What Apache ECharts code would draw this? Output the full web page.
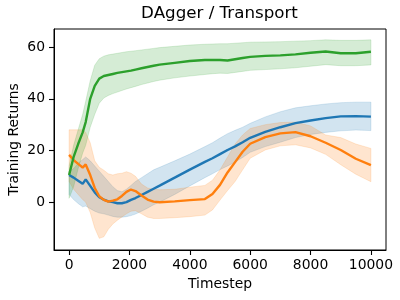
<!DOCTYPE html>
<html>
<head>
<meta charset="utf-8">
<script src="https://cdn.jsdelivr.net/npm/echarts@6/dist/echarts.min.js"></script>
<style>html,body{margin:0;padding:0;background:#fff}#c{width:400px;height:300px}</style>
</head>
<body>
<div id="c"></div>
<script>
var timesteps = [0,150,300,450,550,700,850,1000,1150,1300,1450,1600,1750,1900,2050,2200,2400,2600,2800,3000,3500,4000,4500,4750,5000,5250,5500,5750,6000,6500,7000,7500,8000,8500,9000,9500,10000];

var blueMean = [10.5,9.5,8.3,7.1,8.8,6.3,3.8,1.9,1.0,0.3,0,-0.4,-0.4,0,0.9,1.6,2.8,4.0,5.2,6.4,9.5,12.6,15.6,17.0,18.6,20.2,21.6,23.2,24.9,27.2,29.0,30.6,31.6,32.5,33.2,33.3,33.1];
var blueHi = [12,13,15,16.5,17.5,16,14,12,10,8,6,4.5,4,5,6.5,8,9.5,11,12.5,13.5,16,18.6,21.5,23,24.8,26.5,27.8,29,30.5,33,35,36.5,37.3,38,38.5,38.7,38.7];
var blueLo = [3,1,-0.5,-1.8,-1.5,-2.5,-3.5,-4.2,-4.5,-5,-5.5,-5.8,-5.8,-5.6,-5.2,-4.6,-3.5,-2.3,-1,0,3,6.3,9.5,11,12.6,14,15.5,17.3,19.3,21.5,23.2,25,26.2,27,27.6,27.9,27.7];

var orangeMean = [18.3,16.3,14.8,13.4,14.6,10.5,5.5,2.3,0.9,0.2,0.6,1.1,2.4,4.0,4.9,4.3,2.6,1.0,0.2,0,0.3,0.8,1.2,3.2,6.7,11.5,15.5,19.5,22.6,25.2,26.6,27.1,25.5,23,20.2,16.8,14.3];
var orangeHi = [28,28,28,28,27,23,16,13.5,12.4,11,10.5,11,11.2,11.8,11.2,10,7,5.5,5,4.8,5,5.8,6.5,8.5,12.5,17.5,22.5,26,28.5,30,30.8,31,29.5,26,25,22.5,20.8];
var orangeLo = [8,5,3,1,0,-4,-10,-14,-13.4,-10.5,-8.4,-7,-5.7,-4.5,-3.5,-3.3,-4.5,-5.8,-6.3,-6.3,-6,-5.6,-5,-3,0.8,4.5,8,12.5,17,20.2,21.8,22.2,21,18.5,14.5,10.8,7.9];

var greenMean = [10.5,17.5,22.5,27,31,40,45,47.8,48.8,49.2,49.6,50,50.3,50.6,50.9,51.3,51.8,52.3,52.8,53.2,53.9,54.6,55,55,55,54.8,55.3,55.8,56.2,56.6,56.8,57.2,57.8,58.3,57.6,57.6,58.2];
var greenHi = [14,22,28,34,39,47,53,55.5,56.5,57,57.3,57.6,57.9,58.2,58.4,58.6,58.9,59.2,59.5,59.8,60.3,60.8,61.1,61.2,61.3,61.3,61.5,61.7,61.9,62,62.1,62.3,62.5,62.8,62.6,62.6,62.8];
var greenLo = [1.5,6,13,19,22,29,34,38.3,40.3,41.3,42,42.6,43.2,43.8,44.3,44.8,45.5,46.1,46.7,47.2,48.1,48.8,49.4,49.7,49.9,49.8,50.2,50.6,51,51.3,51.6,52,52.6,53.2,52.8,52.8,53.1];

var xTicks = [0,2000,4000,6000,8000,10000];
var yTicks = [0,20,40,60];

var seriesDefs = [
  {name:'blue', color:'#1f77b4', band:'rgba(31,119,180,0.2)', mean:blueMean, hi:blueHi, lo:blueLo},
  {name:'orange', color:'#ff7f0e', band:'rgba(255,127,14,0.2)', mean:orangeMean, hi:orangeHi, lo:orangeLo},
  {name:'green', color:'#2ca02c', band:'rgba(44,160,44,0.2)', mean:greenMean, hi:greenHi, lo:greenLo}
];

function pairs(arr){ return timesteps.map(function(t,i){ return [t, arr[i]]; }); }

var series = [];
seriesDefs.forEach(function(d){
  var bandData = timesteps.map(function(t,i){ return [t, d.lo[i], d.hi[i]]; });
  series.push({
    type:'custom', silent:true, z:1, clip:true,
    data: bandData,
    encode:{x:0, y:[1,2]},
    renderItem:function(params, api){
      if (params.dataIndex !== 0) return null;
      var top = [], bot = [];
      for (var i = 0; i < bandData.length; i++) {
        top.push(api.coord([bandData[i][0], bandData[i][2]]));
        bot.push(api.coord([bandData[i][0], bandData[i][1]]));
      }
      var pts = top.concat(bot.reverse());
      return {type:'polygon', shape:{points:pts},
        style:{fill:d.band, stroke:d.band, lineWidth:0.8}};
    }
  });
});
seriesDefs.forEach(function(d){
  series.push({
    type:'line', showSymbol:false, silent:true, data: pairs(d.mean),
    lineStyle:{color:d.color, width:2.4}, itemStyle:{color:d.color}, z:3
  });
});

var font = 'DejaVu Sans';
var chart = echarts.init(document.getElementById('c'), null, {renderer:'canvas'});
chart.setOption({
  animation:false,
  backgroundColor:'#fff',
  title:{text:'DAgger / Transport', left:214.5, top:0, textAlign:'center', padding:5,
    textStyle:{fontFamily:font, fontSize:16.7, fontWeight:'normal', color:'#000'}},
  grid:{left:54, right:14, top:29, bottom:50, containLabel:false, outerBoundsMode:'none',
    show:true, borderColor:'#000', borderWidth:1, backgroundColor:'transparent', z:5},
  xAxis:{type:'value', min:-500, max:10500,
    name:'Timestep', nameLocation:'middle', nameGap:27, nameMoveOverlap:false,
    nameTextStyle:{fontFamily:font, fontSize:13.9, color:'#000'},
    axisLine:{show:true, onZero:false, lineStyle:{color:'#000', width:1}}, splitLine:{show:false},
    axisTick:{show:true, inside:false, length:5, lineStyle:{color:'#000', width:1.1}, customValues:xTicks},
    axisLabel:{fontFamily:font, fontSize:13.9, color:'#000', margin:8, customValues:xTicks,
      formatter:function(v){ return String(v); }}
  },
  yAxis:{type:'value', min:-18.5, max:67,
    name:'Training Returns', nameLocation:'middle', nameGap:33, nameMoveOverlap:false,
    nameTextStyle:{fontFamily:font, fontSize:13.9, color:'#000'},
    axisLine:{show:true, onZero:false, lineStyle:{color:'#000', width:1}}, splitLine:{show:false},
    axisTick:{show:true, inside:false, length:5, lineStyle:{color:'#000', width:1.1}, customValues:yTicks},
    axisLabel:{fontFamily:font, fontSize:13.9, color:'#000', margin:9, customValues:yTicks,
      formatter:function(v){ return String(v); }}
  },
  series: series
});
</script>
</body>
</html>
